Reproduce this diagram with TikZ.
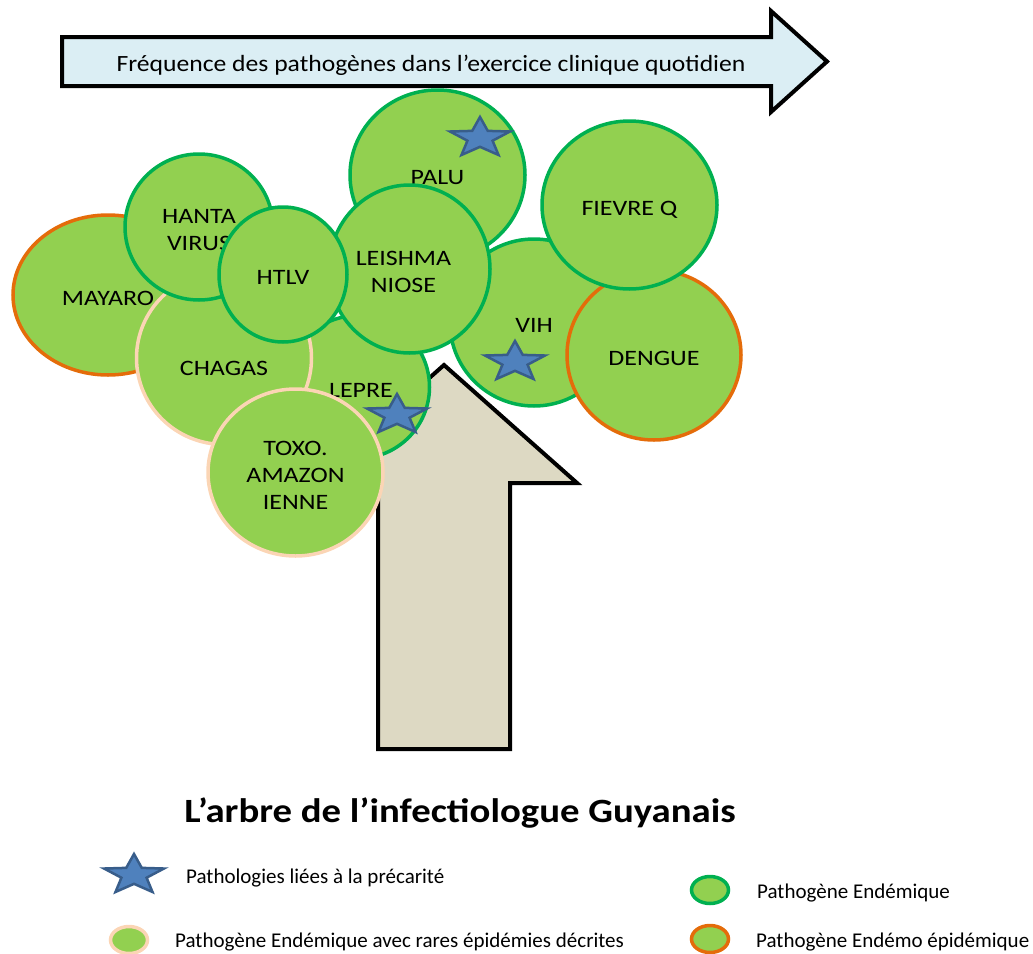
\documentclass[tikz,border=0pt]{standalone}
\usepackage{fontspec}
\setmainfont{Carlito}
\newfontfamily\circfont{Carlito}[FakeStretch=1.18]
\newfontfamily\freqfont{Carlito}[FakeStretch=1.1]
\newfontfamily\titlefont{Carlito}[FakeStretch=1.14]
\usetikzlibrary{shapes.geometric}
\definecolor{leaf}{HTML}{92D050}
\definecolor{endgreen}{HTML}{00B050}
\definecolor{epidorange}{HTML}{E46C0A}
\definecolor{rarepeach}{HTML}{FBD5B5}
\definecolor{trunk}{HTML}{DDD9C3}
\definecolor{skyblue}{HTML}{DBEEF4}
\definecolor{starblue}{HTML}{4F81BD}
\definecolor{stardark}{HTML}{385D8A}
\tikzset{
  blob/.style={ellipse, fill=leaf, line width=3.5pt, inner sep=0pt},
  endem/.style={blob, draw=endgreen},
  epid/.style={blob, draw=epidorange},
  rare/.style={blob, draw=rarepeach},
  lbl/.style={align=center, inner sep=0pt, yshift=-3pt,
    font=\circfont\fontsize{22}{27}\selectfont, text=black},
  bigarrow/.style={draw=black, line width=4pt, line join=miter},
  legtext/.style={anchor=base west, inner sep=0pt, font=\fontsize{21}{24}\selectfont},
  legdot/.style={ellipse, fill=leaf, line width=3.5pt, inner sep=0pt, minimum width=37pt, minimum height=27pt},
  pics/precar/.style={code={
    \draw[fill=starblue, draw=stardark, line width=2.5pt, line join=miter, x=31.5pt, y=21pt]
      (90:1) -- (126:.42) -- (162:1) -- (198:.42) -- (234:1) -- (270:.42) -- (306:1) -- (342:.42) -- (18:1) -- (54:.42) -- cycle;
  }}
}
\begin{document}
\begin{tikzpicture}[x=1pt, y=-1pt]
\useasboundingbox (0,0) rectangle (1033,953);

% top arrow
\draw[bigarrow, fill=skyblue] (62,37) -- (771,37) -- (771,11) -- (827,61.5) -- (771,112) -- (771,86) -- (62,86) -- cycle;
\node[anchor=base, inner sep=0pt, font=\freqfont\fontsize{23.3}{27}\selectfont] (freq) at (431,71) {Fréquence des pathogènes dans l’exercice clinique quotidien};

% trunk arrow
\draw[bigarrow, fill=trunk] (378,749) -- (378,483) -- (311,483) -- (444,365) -- (577,483) -- (510,483) -- (510,749) -- cycle;

% circles
\node[epid, minimum width=190pt, minimum height=160pt, label={[lbl]center:MAYARO}] (mayaro) at (108,295) {};
\node[endem, minimum width=143pt, minimum height=143pt, label={[lbl, xshift=3pt]center:LEPRE}] (lepre) at (358,387) {};
\node[rare, minimum width=175pt, minimum height=173pt, label={[lbl, yshift=-7pt]center:CHAGAS}] (chagas) at (224,358) {};
\node[endem, minimum width=148pt, minimum height=146pt, label={[lbl]center:{HANTA\\VIRUS}}] (hanta) at (199,227) {};
\node[endem, minimum width=175pt, minimum height=170pt, label={[lbl]center:PALU}] (palu) at (437.5,175) {};
\node[endem, minimum width=168pt, minimum height=167pt, label={[lbl]center:VIH}] (vih) at (534,322.5) {};
\node[endem, minimum width=161pt, minimum height=168pt, label={[lbl, xshift=-6pt]center:{LEISHMA\\NIOSE}}] (leish) at (409.5,269) {};
\node[endem, minimum width=128pt, minimum height=135pt, label={[lbl]center:HTLV}] (htlv) at (283,274.5) {};
\node[rare, minimum width=175pt, minimum height=167pt, label={[lbl]center:{TOXO.\\AMAZON\\IENNE}}] (toxo) at (295.5,472.5) {};
\node[epid, minimum width=174pt, minimum height=170pt, label={[lbl]center:DENGUE}] (dengue) at (654,355) {};
\node[endem, minimum width=175pt, minimum height=168pt, label={[lbl, yshift=-1.5pt]center:FIEVRE Q}] (fievre) at (629.5,205) {};

% precarity stars
\pic at (480,138) {precar};
\pic at (515,362) {precar};
\pic at (397,415) {precar};

% title
\node[anchor=base, inner sep=0pt, font=\titlefont\bfseries\fontsize{34}{38}\selectfont] (title) at (460,822) {L’arbre de l’infectiologue Guyanais};

% legend
\pic at (134,875) {precar};
\node[legtext] (l1) at (186,883) {Pathologies liées à la précarité};
\node[legdot, draw=rarepeach] (d2) at (129,940) {};
\node[legtext] (l2) at (175,947) {Pathogène Endémique avec rares épidémies décrites};
\node[legdot, draw=endgreen] (d3) at (710,890) {};
\node[legtext] (l3) at (757,898) {Pathogène Endémique};
\node[legdot, draw=epidorange] (d4) at (710,939) {};
\node[legtext] (l4) at (756,947) {Pathogène Endémo épidémique};
\end{tikzpicture}
\end{document}
